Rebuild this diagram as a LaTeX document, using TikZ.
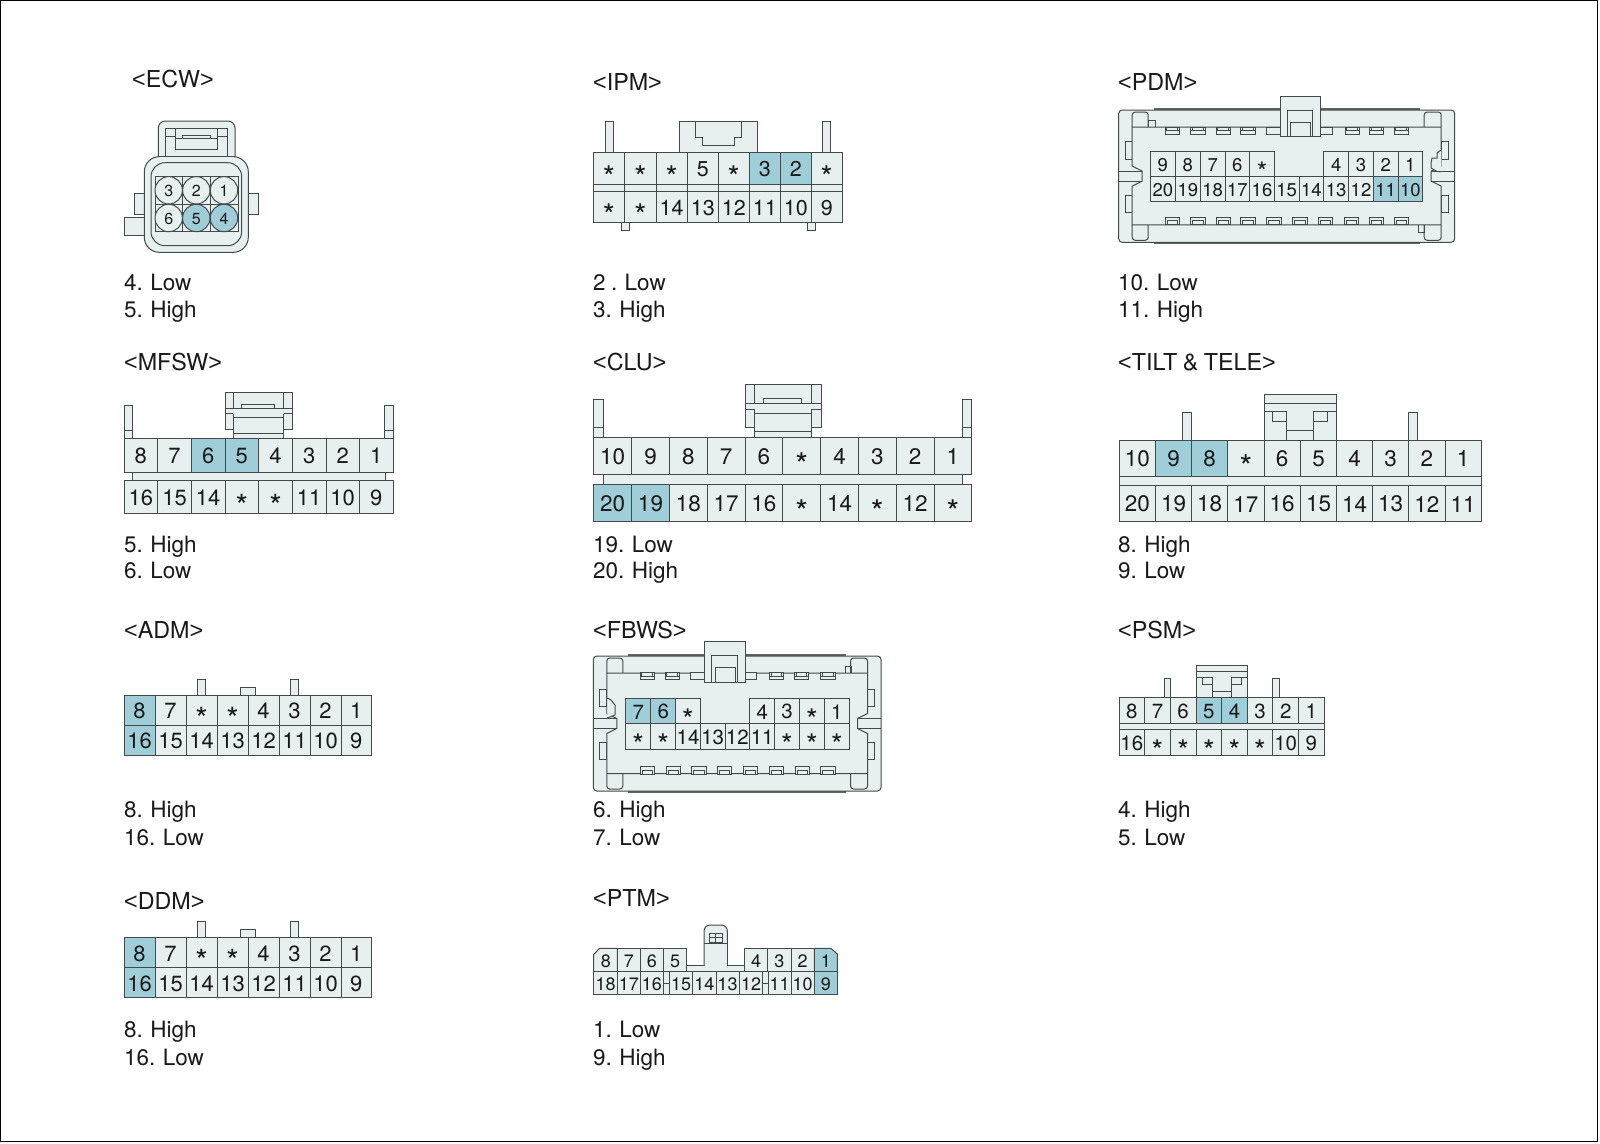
\documentclass[tikz,border=0pt]{standalone}
\usepackage{graphicx}
\usepackage{fontspec}
\setmainfont[WordSpace=0.85]{TeX Gyre Heros}
\newfontfamily\brk{Liberation Sans}
\definecolor{pl}{RGB}{231,239,239}
\definecolor{ph}{RGB}{160,206,216}
\definecolor{lc}{RGB}{66,74,74}
\definecolor{tc}{RGB}{25,25,25}
\tikzset{
  ln/.style={draw=lc,line width=1pt,line join=miter},
  pale/.style={ln,fill=pl},
  dark/.style={draw=lc!85,line width=1.8pt},
  caption/.style={anchor=base west,inner sep=0pt,text=tc,font=\fontsize{22.5}{22.5}\selectfont},
  pinlabel/.style={inner sep=0pt,anchor=center,text=tc},
}
\newcommand\pstar{\smash{\raisebox{-.53em}{\scalebox{1.45}{*}}}}
\newcommand\ttl[1]{\fontsize{23.3}{23.3}\selectfont{\brk <}#1{\brk >}}
% text of one pin
\newcommand\pintext[2]{\fontsize{#1}{#1}\selectfont\rule{0pt}{.716em}#2}
% \pinrow{id}{y0}{y1}{size}{x0}{x/label/fill,...}
\newcommand\pinrow[6]{%
  \foreach \xx/\lab/\col [remember=\xx as \px (initially #5)] in {#6}{%
    \draw[ln,fill=\col] (\px,#2) rectangle (\xx,#3);
    \node[pinlabel] (pin-#1-\xx) at ({(\px+\xx)/2},{(#2+#3)/2+0.8}) {\pintext{#4}{\lab}};
  }%
}
% latch-type clip of MFSW / CLU : left right top bottom
\newcommand\clipa[4]{%
  \begin{scope}[shift={(#1,#3)},x={({(#2-#1)*1pt},0pt)},y={(0pt,{-(#4-#3)*1pt})}]
    \draw[pale] (0,0)--(1,0)--(1,.815)--(.876,.815)--(.876,1)--(.124,1)--(.124,.815)--(0,.815)--cycle;
    \draw[ln] (0,.357)--(1,.357) (0,.465)--(.124,.465) (.876,.465)--(1,.465);
    \draw[ln] (.124,0)--(.124,.357) (.876,0)--(.876,.357) (.124,.465)--(.124,1) (.876,.465)--(.876,1);
    \draw[ln] (.124,.548)--(.876,.548) (.124,.904)--(.876,.904);
    \draw[ln] (.24,.357)--(.24,.26)--(.745,.26)--(.745,.357);
  \end{scope}}
% block of TILT & TELE / PSM : left right top bottom
\newcommand\blockb[4]{%
  \begin{scope}[shift={(#1,#3)},x={({(#2-#1)*1pt},0pt)},y={(0pt,{-(#4-#3)*1pt})}]
    \draw[pale] (0,1)--(0,0)--(1,0)--(1,1);
    \draw[ln] (0,.19)--(1,.19);
    \draw[ln] (0,.38)--(.313,.38)--(.313,1) (1,.38)--(.682,.38)--(.682,1);
    \draw[ln] (.12,.38)--(.12,.6)--(.313,.6) (.88,.38)--(.88,.6)--(.682,.6);
    \draw[ln] (.313,.8)--(.682,.8);
  \end{scope}}
\newcommand\post[4]{\draw[pale] (#1,#4)--(#1,#3)--(#2,#3)--(#2,#4);}
% latch windows
\newcommand\latchtop[2]{%
  \draw[ln,fill=pl] (#1,#2) rectangle ++(14.3,7.2);
  \draw[ln] (#1+1.8,#2)--(#1+1.8,#2+3.4)--(#1+12.5,#2+3.4)--(#1+12.5,#2);
  \draw[ln] (#1,#2+3.4)--(#1+14.3,#2+3.4);}
\newcommand\latchbot[2]{%
  \draw[ln,fill=pl] (#1,#2) rectangle ++(14.3,-7.2);
  \draw[ln] (#1+2,#2)--(#1+2,#2-3.8)--(#1+12.3,#2-3.8)--(#1+12.3,#2);}
% wide housing of PDM / FBWS : left right top bottom
\newcommand\housing[4]{%
  \pgfmathsetmacro\hM{(#3+#4)/2}\pgfmathsetmacro\hbl{#1+13.5}\pgfmathsetmacro\hbr{#2-13.5}%
  \pgfmathsetmacro\hbt{#3+17}\pgfmathsetmacro\hbb{#4-17.5}%
  \draw[dark] (#1+35,#3-1)--(#2-35,#3-1) (#1+35,#4+1)--(#2-35,#4+1);
  \draw[pale,rounded corners=3.5pt] (#1,#3) rectangle (#2,#4);
  \foreach \ya/\yb in {-34.5/-17,19/36}{%
    \draw[pale] (#1+6.3,\hM+\ya) rectangle (\hbl,\hM+\yb);
    \draw[pale] (#2-6.3,\hM+\ya) rectangle (\hbr,\hM+\yb);}
  \draw[ln,rounded corners=3pt] (\hbl,\hbt)--(\hbl,#3+2)--(\hbl+16,#3+2)--(\hbl+16,\hbt);
  \draw[ln,rounded corners=3pt] (\hbr,\hbt)--(\hbr,#3+2)--(\hbr-17,#3+2)--(\hbr-17,\hbt);
  \draw[ln,rounded corners=3pt] (\hbl,\hbb)--(\hbl,#4-2)--(\hbl+16,#4-2)--(\hbl+16,\hbb);
  \draw[ln,rounded corners=3pt] (\hbr,\hbb)--(\hbr,#4-2)--(\hbr-17,#4-2)--(\hbr-17,\hbb);
  \draw[pale] (\hbl,\hbt)--(\hbr,\hbt)--(\hbr,\hM-10)--(\hbr-10,\hM-5)--(\hbr-10,\hM+5)--(\hbr,\hM+10)--(\hbr,\hbb)--(\hbl,\hbb)--(\hbl,\hM+10)--(\hbl+10,\hM+5)--(\hbl+10,\hM-5)--(\hbl,\hM-10)--cycle;
  \draw[ln] (#1,\hM-5)--(\hbl+10,\hM-5) (#1,\hM+5)--(\hbl+10,\hM+5);
  \draw[ln] (#2,\hM-5)--(\hbr-10,\hM-5) (#2,\hM+5)--(\hbr-10,\hM+5);
}
% top tab of PDM / FBWS : left right top bottom
\newcommand\tabtop[4]{%
  \draw[pale] (#1,#4)--(#1,#3)--(#2,#3)--(#2,#4)--cycle;
  \draw[ln] (#1+7.3,#4)--(#1+7.3,#3+14)--(#2-8,#3+14)--(#2-8,#4);
  \draw[ln] (#1+10.7,#4)--(#1+10.7,#3+26)--(#2-10,#3+26)--(#2-10,#4);}
\begin{document}
\begin{tikzpicture}[x=1pt,y=-1pt]
\useasboundingbox (0,0) rectangle (1600,1143);
\fill[white] (0,0) rectangle (1600,1143);
\draw[black,line width=.9pt] (0.5,0.5) rectangle (1597,1141);

% ---------- ECW ----------
\node[caption] (t-ecw) at (132,87) {\ttl{ECW}};
\node[caption] (l-ecw1) at (124,290) {4. Low};
\node[caption] (l-ecw2) at (124,317.2) {5. High};
\draw[pale] (248.3,193.3) rectangle (258.7,214.3);
\draw[pale] (144.3,193.3) rectangle (134.3,214.3);
\draw[pale] (144.3,217.3) rectangle (124,235.7);
\draw[pale,rounded corners=7pt] (158.3,165)--(158.3,121)--(235,121)--(235,165);
\draw[pale,rounded corners=15pt] (144.3,156.7) rectangle (248.3,252.3);
\fill[pl] (159,150) rectangle (234.4,158);
\draw[ln] (158.3,156.7)--(165.3,156.7) (235,156.7)--(227.7,156.7);
\draw[ln] (165.3,128.3) rectangle (227.7,156.7);
\draw[ln] (175.7,128.3)--(175.7,149.3)--(217.3,149.3)--(217.3,128.3);
\draw[ln] (165.3,136)--(175.7,136) (217.3,136)--(227.7,136);
\draw[ln] (182.3,138.3)--(182.3,135)--(210.7,135)--(210.7,138.3) (175.7,138.3)--(217.3,138.3);
\draw[ln,rounded corners=14pt] (151,162.7) rectangle (241.7,245.7);
\draw[ln] (155,176.7) rectangle (238,231.7);
\draw[ln] (155,204.3)--(238,204.3) (182.7,176.7)--(182.7,231.7) (210.3,176.7)--(210.3,231.7);
\foreach \cx/\cy/\lab/\col in {168.7/190.3/3/pl,196.3/190.3/2/pl,224/190.3/1/pl,168.7/218/6/pl,196.3/218/5/ph,224/218/4/ph}{
  \draw[ln,fill=\col] (\cx,\cy) circle (13.7);
  \node[pinlabel] (pin-ecw-\lab) at (\cx,\cy+0.5) {\pintext{16}{\lab}};
}

% ---------- IPM ----------
\node[caption] (t-ipm) at (593,90) {\ttl{IPM}};
\node[caption] (l-ipm1) at (593,290) {2 . Low};
\node[caption] (l-ipm2) at (593,317.2) {3. High};
\post{605.7}{613.7}{121.3}{152.7}
\post{822.7}{830.7}{121.3}{152.7}
\post{679.3}{757}{121.3}{152.7}
\draw[ln] (695,121.3)--(695,137.3)--(702.7,137.3)--(702.7,145)--(734,145)--(734,137.3)--(741.7,137.3)--(741.7,121.3);
\draw[pale] (621,222.3) rectangle (629.3,230.3);
\draw[pale] (807.3,222.3) rectangle (815.3,230.3);
\draw[pale] (593.3,184) rectangle (842.3,191.3);
\foreach \xx in {624.7,656,687.3,718.3,749.3,780.3,811.3}{\draw[ln] (\xx,184)--(\xx,191.3);}
\pinrow{ipma}{152.7}{184}{21.5}{593.3}{624.7/\pstar/pl,656/\pstar/pl,687.3/\pstar/pl,718.3/5/pl,749.3/\pstar/pl,780.3/3/ph,811.3/2/ph,842.3/\pstar/pl}
\pinrow{ipmb}{191.3}{222.3}{21.5}{593.3}{624.7/\pstar/pl,656/\pstar/pl,687.3/14/pl,718.3/13/pl,749.3/12/pl,780.3/11/pl,811.3/10/pl,842.3/9/pl}

% ---------- PDM ----------
\node[caption] (t-pdm) at (1118,90) {\ttl{PDM}};
\node[caption] (l-pdm1) at (1118,290) {10. Low};
\node[caption] (l-pdm2) at (1118,317.2) {11. High};
\housing{1118.7}{1454.7}{110}{242.3}
\draw[ln] (1148,127.3)--(1148,120)--(1155,120)--(1155,127.3);
\draw[ln] (1418.5,224.7)--(1418.5,232)--(1424,232)--(1424,224.7);
\draw[pale] (1441.3,150)--(1437,153)--(1437,158)--(1432,158)--(1431,163)--(1431,168)--(1437,171.5)--(1441.3,171.5);
\foreach \xx in {1165,1190.7,1216,1240.7,1345,1369.3,1394}{\latchtop{\xx}{127.3}}
\draw[ln,fill=pl] (1266.7,127.3) rectangle (1280,134.5);
\draw[ln,fill=pl] (1320,127.3) rectangle (1332.3,134.5);
\foreach \xx in {1165,1190.7,1216,1240.7,1266.7,1292.7,1318.3,1344,1369.3,1394}{\latchbot{\xx}{224.7}}
\tabtop{1280}{1320}{96.7}{136.7}
\pinrow{pdma}{151.7}{176.7}{18.5}{1150.3}{1175.3/9/pl,1200.3/8/pl,1225/7/pl,1249.7/6/pl,1274.3/\pstar/pl}
\pinrow{pdmc}{151.7}{176.7}{18.5}{1323.7}{1348.7/4/pl,1373.3/3/pl,1398/2/pl,1422.7/1/pl}
\pinrow{pdmb}{176.7}{201.3}{18.5}{1150.3}{1175.3/20/pl,1200.3/19/pl,1225/18/pl,1249.7/17/pl,1274.3/16/pl,1299/15/pl,1323.7/14/pl,1348.7/13/pl,1373.3/12/pl,1398/11/ph,1422.7/10/ph}

% ---------- MFSW ----------
\node[caption] (t-mfsw) at (124,370) {\ttl{MFSW}};
\node[caption] (l-mfsw1) at (124,552) {5. High};
\node[caption] (l-mfsw2) at (124,578.5) {6. Low};
\post{124}{132.3}{405}{438.3}
\post{384.7}{393.3}{405}{438.3}
\draw[ln] (124,430)--(132.3,430) (384.7,430)--(393.3,430);
\clipa{225}{292}{392.3}{438.3}
\draw[pale] (132.3,472) rectangle (385,480.3);
\pinrow{mfswa}{438.3}{472}{22}{124}{157.7/8/pl,191.3/7/pl,225/6/ph,258.7/5/ph,292.3/4/pl,326/3/pl,359.3/2/pl,393.3/1/pl}
\pinrow{mfswb}{480.3}{513.7}{22}{124}{157.7/16/pl,191.3/15/pl,225/14/pl,258.7/\pstar/pl,292.3/\pstar/pl,326/11/pl,359.3/10/pl,393.3/9/pl}

% ---------- CLU ----------
\node[caption] (t-clu) at (593,370) {\ttl{CLU}};
\node[caption] (l-clu1) at (593,552) {19. Low};
\node[caption] (l-clu2) at (593,578.5) {20. High};
\post{593.7}{603.3}{399}{437}
\post{962}{971.7}{399}{437}
\draw[ln] (593.7,427.3)--(603.3,427.3) (962,427.3)--(971.7,427.3);
\clipa{745}{821}{384.7}{437}
\draw[pale] (603.3,474.7) rectangle (962.3,484);
\pinrow{clua}{437}{474.7}{22.5}{593.7}{631.7/10/pl,669.3/9/pl,707.3/8/pl,745/7/pl,782.7/6/pl,820.7/\pstar/pl,858.3/4/pl,896.3/3/pl,934/2/pl,971.7/1/pl}
\pinrow{club}{484}{521.7}{22.5}{593.7}{631.7/20/ph,669.3/19/ph,707.3/18/pl,745/17/pl,782.7/16/pl,820.7/\pstar/pl,858.3/14/pl,896.3/\pstar/pl,934/12/pl,971.7/\pstar/pl}

% ---------- TILT & TELE ----------
\node[caption] (t-tilt) at (1118,370) {\ttl{TILT \& TELE}};
\node[caption] (l-tilt1) at (1118,552) {8. High};
\node[caption] (l-tilt2) at (1118,578.5) {9. Low};
\post{1182.7}{1191.3}{412.7}{440}
\post{1408.7}{1417.7}{412.7}{440}
\blockb{1264}{1336.3}{394.7}{440}
\draw[pale] (1119,476) rectangle (1481,485.3);
\pinrow{tilta}{440}{476}{22.5}{1119}{1155.7/10/pl,1191.7/9/ph,1227.7/8/ph,1264/\pstar/pl,1300.3/6/pl,1336.7/5/pl,1372.7/4/pl,1408.7/3/pl,1445/2/pl,1481/1/pl}
\pinrow{tiltb}{485.3}{521.3}{22.5}{1119}{1155.7/20/pl,1191.7/19/pl,1227.7/18/pl,1264/17/pl,1300.3/16/pl,1336.7/15/pl,1372.7/14/pl,1408.7/13/pl,1445/12/pl,1481/11/pl}

% ---------- ADM ----------
\node[caption] (t-adm) at (124,638) {\ttl{ADM}};
\node[caption] (l-adm1) at (124,817) {8. High};
\node[caption] (l-adm2) at (124,845) {16. Low};
\post{197.7}{205.7}{679.3}{695}
\post{290.7}{298.7}{679.3}{695}
\post{240}{255.7}{687.3}{695}
\pinrow{adma}{695}{725.3}{22}{124}{155/8/ph,186/7/pl,217/\pstar/pl,248/\pstar/pl,279/4/pl,310/3/pl,341/2/pl,371.7/1/pl}
\pinrow{admb}{725.3}{755.3}{22}{124}{155/16/ph,186/15/pl,217/14/pl,248/13/pl,279/12/pl,310/11/pl,341/10/pl,371.7/9/pl}

% ---------- FBWS ----------
\node[caption] (t-fbws) at (593,638) {\ttl{FBWS}};
\node[caption] (l-fbws1) at (593,817) {6. High};
\node[caption] (l-fbws2) at (593,845) {7. Low};
\housing{593.3}{881}{656}{791}
\draw[ln] (845,672.7)--(845,666.7)--(851,666.7)--(851,672.7);
\draw[pale] (607.3,698)--(611,700)--(615,705)--(615,715)--(607.3,718);
\foreach \xx in {640,665,769.3,794.3,820.7}{\latchtop{\xx}{672.7}}
\draw[ln,fill=pl] (690.7,672.7) rectangle (704.3,679.9);
\draw[ln,fill=pl] (745,672.7) rectangle (756.7,679.9);
\foreach \xx in {640,666,691.7,717.3,743.3,769.3,795,820.7}{\latchbot{\xx}{774}}
\tabtop{704.3}{745}{641.7}{682.3}
\pinrow{fbwsa}{698.3}{723.7}{20.5}{625.7}{650.7/7/ph,675.7/6/ph,700.3/\pstar/pl}
\pinrow{fbwsc}{698.3}{723.7}{20.5}{749.7}{774.7/4/pl,799.3/3/pl,824.3/\pstar/pl,849.3/1/pl}
\pinrow{fbwsb}{723.7}{749.3}{20.5}{625.7}{650.7/\pstar/pl,675.7/\pstar/pl,700.3/14/pl,725/13/pl,749.7/12/pl,774.7/11/pl,799.3/\pstar/pl,824.3/\pstar/pl,849.3/\pstar/pl}

% ---------- PSM ----------
\node[caption] (t-psm) at (1118,638) {\ttl{PSM}};
\node[caption] (l-psm1) at (1118,817) {4. High};
\node[caption] (l-psm2) at (1118,845) {5. Low};
\post{1164}{1170.3}{678.3}{697.7}
\post{1272.7}{1279}{678.3}{697.7}
\blockb{1196}{1247.3}{665.7}{697.7}
\draw[pale] (1119,723.3) rectangle (1324,729.3);
\pinrow{psma}{697.7}{723.3}{20.5}{1119}{1144.7/8/pl,1170.3/7/pl,1196/6/pl,1221.7/5/ph,1247.3/4/ph,1272.7/3/pl,1298.7/2/pl,1324/1/pl}
\pinrow{psmb}{729.3}{755.3}{20.5}{1119}{1144.7/16/pl,1170.3/\pstar/pl,1196/\pstar/pl,1221.7/\pstar/pl,1247.3/\pstar/pl,1272.7/\pstar/pl,1298.7/10/pl,1324/9/pl}

% ---------- DDM ----------
\node[caption] (t-ddm) at (124,909) {\ttl{DDM}};
\node[caption] (l-ddm1) at (124,1037) {8. High};
\node[caption] (l-ddm2) at (124,1065) {16. Low};
\post{197.7}{205.7}{921.7}{937.3}
\post{290.7}{298.7}{921.7}{937.3}
\post{240}{255.7}{929.3}{937.3}
\pinrow{ddma}{937.3}{967.7}{22}{124}{155/8/ph,186/7/pl,217/\pstar/pl,248/\pstar/pl,279/4/pl,310/3/pl,341/2/pl,371.7/1/pl}
\pinrow{ddmb}{967.7}{997.7}{22}{124}{155/16/ph,186/15/pl,217/14/pl,248/13/pl,279/12/pl,310/11/pl,341/10/pl,371.7/9/pl}

% ---------- PTM ----------
\node[caption] (t-ptm) at (593,906) {\ttl{PTM}};
\node[caption] (l-ptm1) at (593,1037) {1. Low};
\node[caption] (l-ptm2) at (593,1065) {9. High};
\draw[pale,rounded corners=6pt] (704,966)--(704,925)--(727.3,925)--(727.3,966);
\draw[ln] (704,943)--(727.3,943);
\draw[ln] (709.3,933.3) rectangle (722.3,942.3);
\draw[ln] (709.3,937.5)--(722.3,937.5) (715.8,933.3)--(715.8,942.3);
\draw[pale] (686.7,965)--(704,965) (727.3,965)--(744.7,965);
\fill[pl] (686.7,965.5) rectangle (744.7,971.7);
\fill[pl] (704.5,943.5) rectangle (726.8,966);
\draw[pale] (593.7,971.7)--(593.7,954.5)--(599.5,948.3)--(617.3,948.3)--(617.3,971.7)--cycle;
\node[pinlabel] (pin-ptm-8) at (605.8,960.8) {\pintext{18}{8}};
\pinrow{ptma}{948.3}{971.7}{18}{617.3}{640.3/7/pl,663.3/6/pl,686.7/5/pl}
\pinrow{ptmc}{948.3}{971.7}{18}{744.7}{767.7/4/pl,791/3/pl,814.3/2/pl}
\draw[ln,fill=ph] (814.3,948.3)--(831,948.3)--(837.3,954)--(837.3,971.7)--(814.3,971.7)--cycle;
\node[pinlabel] (pin-ptm-1) at (825.8,960.8) {\pintext{18}{1}};
\pinrow{ptmb}{971.7}{994.3}{18}{593.7}{617.3/18/pl,640.3/17/pl,663.3/16/pl,669.3/{}/pl,692.7/15/pl,716/14/pl,739.3/13/pl,762.7/12/pl,768.3/{}/pl,791/11/pl,814.3/10/pl,837.3/9/ph}
\draw[ln] (663.3,983)--(669.3,983) (762.7,983)--(768.3,983);
\end{tikzpicture}
\end{document}
